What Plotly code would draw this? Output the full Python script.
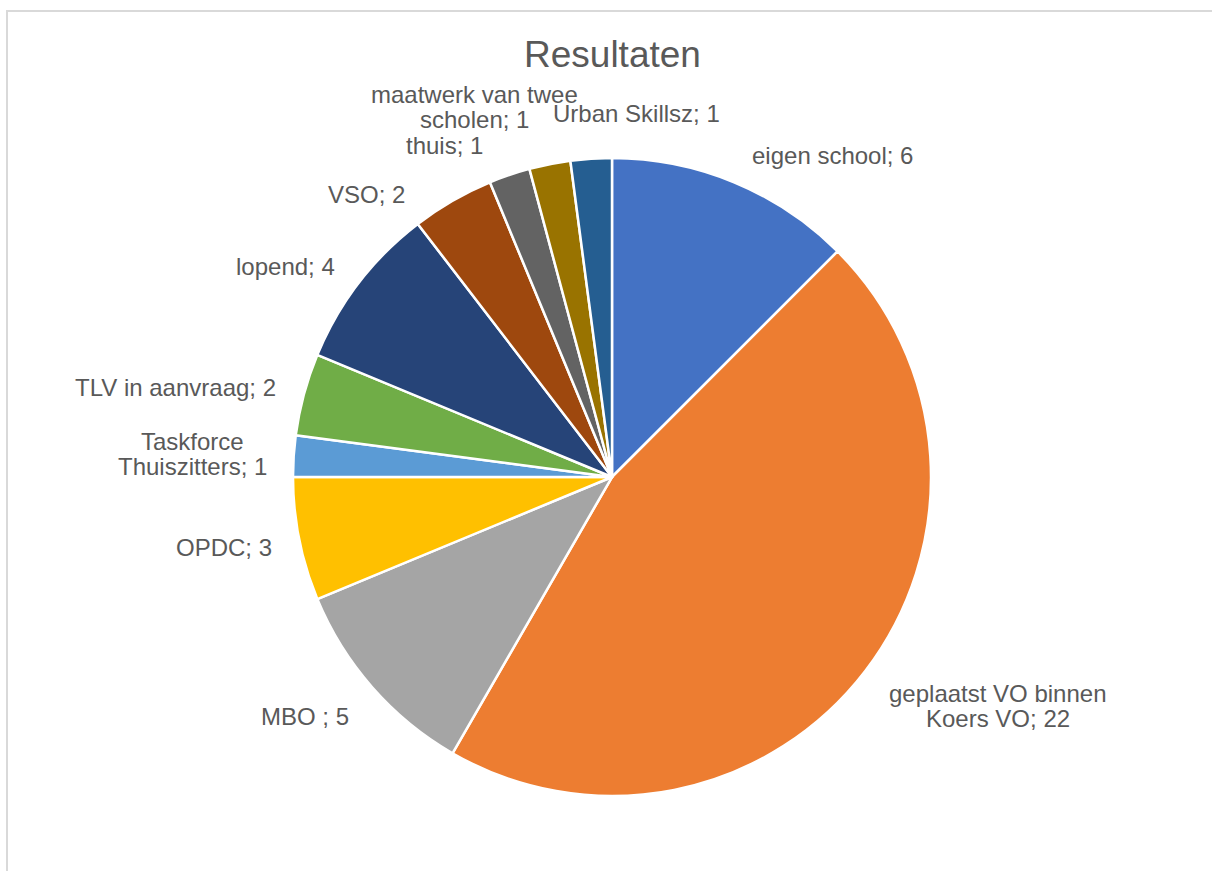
import plotly.graph_objects as go

# ---- data ----
categories = ["eigen school", "geplaatst VO binnen Koers VO", "MBO ", "OPDC",
              "Taskforce Thuiszitters", "TLV in aanvraag", "lopend", "VSO",
              "thuis", "maatwerk van twee scholen", "Urban Skillsz"]
values = [6, 22, 5, 3, 1, 2, 4, 2, 1, 1, 1]
label_lines = [["eigen school; 6"],
               ["geplaatst VO binnen", "Koers VO; 22"],
               ["MBO ; 5"],
               ["OPDC; 3"],
               ["Taskforce", "Thuiszitters; 1"],
               ["TLV in aanvraag; 2"],
               ["lopend; 4"],
               ["VSO; 2"],
               ["thuis; 1"],
               ["maatwerk van twee", "scholen; 1"],
               ["Urban Skillsz; 1"]]
colors = ["#4472C4", "#ED7D31", "#A5A5A5", "#FFC000", "#5B9BD5", "#70AD47",
          "#264478", "#9E480E", "#636363", "#997300", "#255E91"]
title_text = "Resultaten"

# ---- layout (pixels) ----
W, H = 1212, 871
label_pos = [(832, 155), (998, 706), (305, 716), (224, 547), (192, 454),
             (175, 387), (285, 266), (367, 195), (445, 146), (474, 107),
             (636, 113)]
line_gap = 25
TXT = "#595959"
FONT = "Liberation Sans, Arial, sans-serif"

cx, cy, R = 612, 477, 319

def px(x):
    return x / W

def py(y):
    return 1 - y / H

fig = go.Figure(go.Pie(
    labels=categories, values=values, sort=False, direction="clockwise",
    rotation=0, textinfo="none", hoverinfo="label+value",
    marker=dict(colors=colors, line=dict(color="white", width=2.5)),
    domain=dict(x=[px(cx - R), px(cx + R)], y=[py(cy + R), py(cy - R)]),
    showlegend=False,
))

annotations = []
for lines, (lx, ly) in zip(label_lines, label_pos):
    n = len(lines)
    for i, t in enumerate(lines):
        yy = ly + (i - (n - 1) / 2) * line_gap
        annotations.append(dict(
            x=px(lx), y=py(yy), xref="paper", yref="paper", text=t,
            showarrow=False, xanchor="center", yanchor="middle",
            font=dict(family=FONT, size=24, color=TXT)))
annotations.append(dict(
    x=px(612), y=py(55), xref="paper", yref="paper", text=title_text,
    showarrow=False, xanchor="center", yanchor="middle",
    font=dict(family=FONT, size=37, color=TXT)))

fig.update_layout(
    width=W, height=H, margin=dict(l=0, r=0, t=0, b=0),
    paper_bgcolor="white", plot_bgcolor="white",
    annotations=annotations,
    shapes=[dict(type="rect", xref="paper", yref="paper",
                 x0=px(7), x1=1.05, y0=-0.05, y1=py(11),
                 line=dict(color="#D9D9D9", width=2), fillcolor="rgba(0,0,0,0)")],
)

fig.write_html("out.html", config={"displayModeBar": False},
               post_script="document.body.style.margin='0px';document.body.style.overflow='hidden';")
